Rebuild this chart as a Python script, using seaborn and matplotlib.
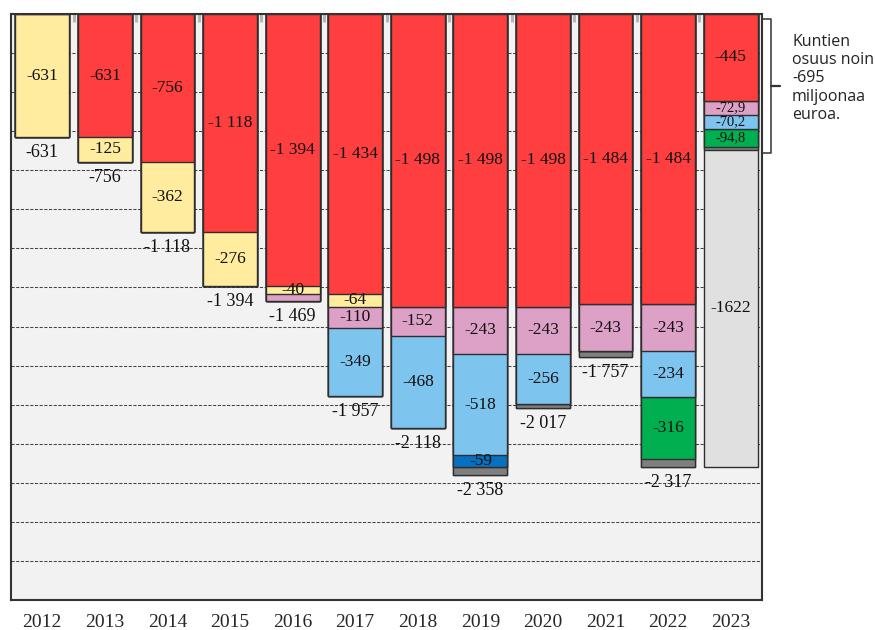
import numpy as np
import pandas as pd
import matplotlib.pyplot as plt
from matplotlib.transforms import Bbox, TransformedBbox
import seaborn as sns

# ── DATA (million euros, shown as negative) ──────────────────
years = ["2012", "2013", "2014", "2015", "2016", "2017",
         "2018", "2019", "2020", "2021", "2022", "2023"]
red        = [0, 631, 756, 1118, 1394, 1434, 1498, 1498, 1498, 1484, 1484, 445]
yellow     = [631, 125, 362, 276, 40, 64, 0, 0, 0, 0, 0, 0]
pink       = [0, 0, 0, 0, 35, 110, 152, 243, 243, 243, 243, 72.9]
light_blue = [0, 0, 0, 0, 0, 349, 468, 518, 256, 0, 234, 70.2]
dark_blue  = [0, 0, 0, 0, 0, 0, 0, 59, 0, 0, 0, 0]
green      = [0, 0, 0, 0, 0, 0, 0, 0, 0, 0, 316, 94.8]
grey       = [0, 0, 0, 0, 0, 0, 0, 40, 20, 30, 40, 12.1]
light_grey = [0, 0, 0, 0, 0, 0, 0, 0, 0, 0, 0, 1622]
totals     = [631, 756, 1118, 1394, 1469, 1957, 2118, 2358, 2017, 1757, 2317, None]
kunta_total = 695

layers = [
    ("red", red, "#FF3F3F"),
    ("yellow", yellow, "#FFEC9E"),
    ("pink", pink, "#DDA0C6"),
    ("light_blue", light_blue, "#7DC4EE"),
    ("dark_blue", dark_blue, "#0870C0"),
    ("green", green, "#00B050"),
    ("grey", grey, "#7F7F7F"),
    ("light_grey", light_grey, "#E0E0E0"),
]

sns.set_style("white")
plt.rcParams["font.family"] = ["Liberation Serif", "DejaVu Serif"]


def fmt(v, name):
    if name == "light_grey":
        return f"-{v:.0f}"
    if float(v).is_integer():
        return "-" + f"{v:,.0f}".replace(",", " ")
    return "-" + f"{v:.1f}".replace(".", ",")


fig, ax = plt.subplots(figsize=(8.75, 6.3), dpi=100)
fig.subplots_adjust(left=11 / 875, right=762 / 875, bottom=30 / 630, top=616 / 630)
ax.set_facecolor("#F2F2F2")

vals = np.array([l[1] for l in layers], dtype=float)
cum = vals.cumsum(axis=0)

# overlay cumulative bars, deepest first
for k in range(len(layers) - 1, -1, -1):
    df = pd.DataFrame({"year": years, "value": -cum[k]})
    sns.barplot(data=df, x="year", y="value", order=years, color=layers[k][2],
                saturation=1, width=0.86, edgecolor="#2e2e2e", linewidth=1.0,
                errorbar=None, ax=ax, zorder=2)

# segment labels (clipped where the next segment starts)
for k, (name, v_list, col) in enumerate(layers):
    for i, v in enumerate(v_list):
        if name == "grey" or v < 40:
            continue
        centre = -(cum[k][i] - v / 2)
        size = 12.5 if float(v).is_integer() else 10.5
        t = ax.text(i, centre, fmt(v, name), ha="center", va="center",
                    fontsize=size, color="#111111", zorder=5)
        box = TransformedBbox(Bbox([[i - 0.6, -cum[k][i]], [i + 0.6, 0]]), ax.transData)
        t.set_clip_box(box)
        t.set_clip_on(True)

# totals below bars
for i, tot in enumerate(totals):
    if tot is None:
        continue
    ax.annotate("-" + f"{tot:,}".replace(",", " "), xy=(i, -tot), xytext=(0, -5),
                textcoords="offset points", ha="center", va="top",
                fontsize=13, color="#111111", zorder=5)

ax.set_xlim(-0.5, 11.5)
ax.set_ylim(-3000, 0)
ax.set_yticks(np.arange(-3000, 1, 200))
ax.yaxis.grid(True, color="#444444", linestyle=(0, (3, 1.5)), linewidth=0.75)
ax.set_axisbelow(True)
ax.tick_params(axis="y", left=False, labelleft=False)
ax.tick_params(axis="x", which="major", length=0, pad=10, labelsize=14)
ax.set_xticks(np.arange(0.5, 11.5, 1), minor=True)
ax.tick_params(axis="x", which="minor", bottom=False, top=True, direction="in",
               length=6, width=2.2, color="#b5b5b5")
ax.set_xlabel("")
ax.set_ylabel("")
for s in ax.spines.values():
    s.set_visible(True)
    s.set_color("#333333")
    s.set_linewidth(1.5)

# bracket for the municipalities' share
bx = 11.64
ax.plot([11.51, bx, bx, 11.51], [-25, -25, -(kunta_total + 17), -(kunta_total + 17)],
        color="#333333", lw=1.1, clip_on=False)
mid = -(kunta_total + 42) / 2
ax.plot([bx, 11.79], [mid, mid], color="#333333", lw=1.6, clip_on=False)
ax.text(11.98, -100, f"Kuntien\nosuus noin\n-{kunta_total}\nmiljoonaa\neuroa.",
        family=["Open Sans", "DejaVu Sans"], fontsize=11.5, va="top", ha="left",
        linespacing=1.2, color="#222222", clip_on=False)

plt.savefig("out.png", dpi=100)
